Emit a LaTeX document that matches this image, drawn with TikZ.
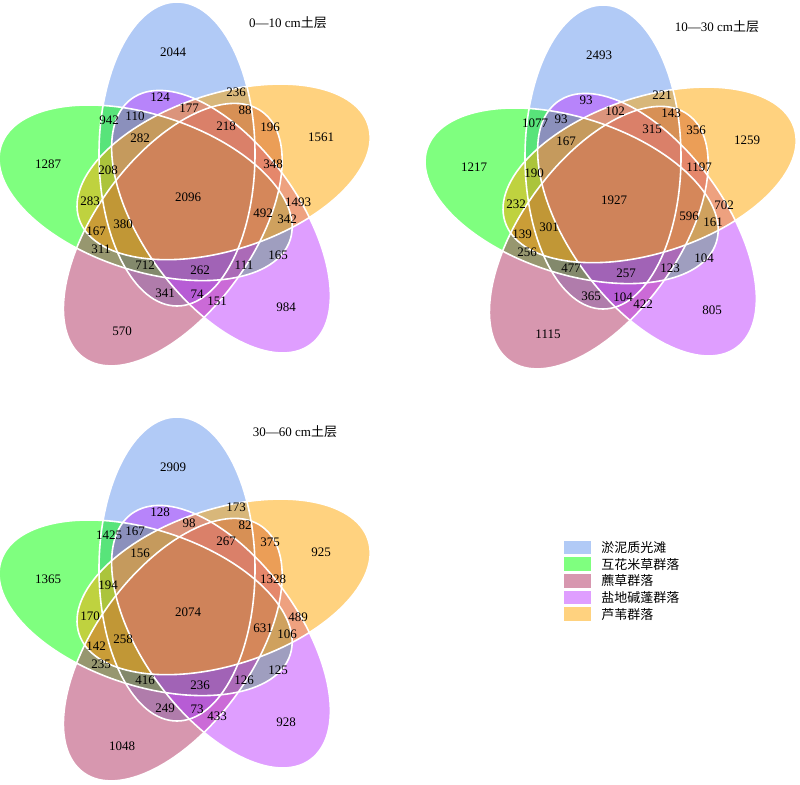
\documentclass[tikz,border=0pt]{standalone}
\usepackage{fontspec}
\setmainfont{Liberation Serif}
\newfontfamily\cjk{Noto Sans CJK SC}
\usetikzlibrary{positioning}
\definecolor{setA}{RGB}{100,149,237}
\definecolor{setB}{RGB}{0,255,0}
\definecolor{setC}{RGB}{176,48,96}
\definecolor{setD}{RGB}{191,62,255}
\definecolor{setE}{RGB}{255,165,0}

\begin{document}
\begin{tikzpicture}[x=1pt, y=1pt,
    num/.style={font=\fontsize{13}{13}\selectfont, inner sep=0pt},
    setfill/.style={fill=#1, fill opacity=0.5},
    setline/.style={draw=white, line width=1.6pt},
    swatch/.style={fill=#1, fill opacity=0.5, minimum width=27pt, minimum height=13.7pt, inner sep=0pt},
    legtext/.style={font=\cjk\fontsize{13}{13}\selectfont, inner sep=0pt}]
    % 五个群落的韦恩图
    \def\ea{78}
    \def\eb{152}
    \def\vennsets{
        \foreach \c [count=\i from 0] in {setA,setB,setC,setD,setE}
            \fill[setfill=\c, rotate=72*\i] (-11,41) ellipse ({\ea} and {\eb});
        \foreach \i in {0,...,4}
            \draw[setline, rotate=72*\i] (-11,41) ellipse ({\ea} and {\eb});
        \foreach \x/\y [count=\k] in {-15/143, -28/98, 48/103, 1/87, 57/85,
                -79/75, -53/79, 38/69, 82/68, 133/58, -48/57, -140/31, -80/25,
                85/31, 0/-2, -98/-6, 110/-7, 75/-18, 99/-24, -65/-29, -92/-36,
                -87/-54, 90/-60, -43/-70, 12/-75, 56/-70, -23/-98, 9/-99,
                29/-106, 98/-112, -66/-136}
            \coordinate (r\k) at (\x,\y);
    }
    \useasboundingbox (0,0) rectangle (800,-784);

    % 0--10 cm
    \begin{scope}[shift={(188,-195)}]
        \vennsets
        \foreach \n [count=\k] in {2044,124,236,177,88,942,110,218,196,1561,282,
                1287,208,348,2096,283,1493,492,342,380,167,311,165,712,262,111,
                341,74,151,984,570}
            \node[num] (a\k) at (r\k) {\n};
    \end{scope}
    \node[num] (ta) at (288,-23) {0—10 cm{\cjk 土层}};

    % 10--30 cm
    \begin{scope}[shift={(614,-198)}]
        \vennsets
        \foreach \n [count=\k] in {2493,93,221,102,143,1077,93,315,356,1259,167,
                1217,190,1197,1927,232,702,596,161,301,139,256,104,477,257,123,
                365,104,422,805,1115}
            \node[num] (b\k) at (r\k) {\n};
    \end{scope}
    \node[num] (tb) at (717,-27) {10—30 cm{\cjk 土层}};

    % 30--60 cm
    \begin{scope}[shift={(188,-610)}]
        \vennsets
        \foreach \n [count=\k] in {2909,128,173,98,82,1425,167,267,375,925,156,
                1365,194,1328,2074,170,489,631,106,258,142,235,125,416,236,126,
                249,73,433,928,1048}
            \node[num] (c\k) at (r\k) {\n};
    \end{scope}
    \node[num] (tc) at (295,-432) {30—60 cm{\cjk 土层}};

    % legend
    \foreach \c/\t [count=\k] in {setA/淤泥质光滩, setB/互花米草群落, setC/藨草群落,
            setD/盐地碱蓬群落, setE/芦苇群落}{
        \node[swatch=\c] (sw\k) at (577.5, {-547.5-16.67*(\k-1)}) {};
        \node[legtext, right=10pt of sw\k] (lt\k) {\t};
    }
\end{tikzpicture}
\end{document}
